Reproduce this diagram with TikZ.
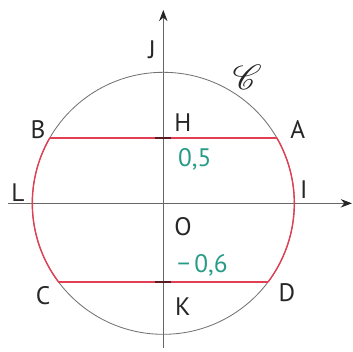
\documentclass[tikz,border=0pt]{standalone}
\usepackage{fontspec}
\usepackage{mathrsfs}
\setmainfont{PT Sans}
\usetikzlibrary{arrows.meta, calc}

\definecolor{chordred}{RGB}{226,62,84}
\definecolor{valteal}{RGB}{40,155,135}
\definecolor{tickdark}{RGB}{90,25,35}

\begin{document}
\begin{tikzpicture}[
    scale=3.275,
    font=\fontsize{18}{20}\selectfont,
    >={Stealth[length=8pt,width=6pt,color=black!85]},
    axis/.style={draw=black!60, line width=0.6pt},
    circ/.style={draw=black!55, line width=0.6pt},
    chord/.style={draw=chordred, line width=1pt},
    tick/.style={draw=tickdark, line width=1.5pt},
    lbl/.style={inner sep=0pt, text=black!85},
    val/.style={inner sep=0pt, text=valteal}
  ]
    \useasboundingbox (-1.2466,-1.1275) rectangle (1.448,1.552);

    % points of the circle
    \coordinate (O) at (0,0);
    \coordinate (A) at (30:1);
    \coordinate (B) at (150:1);
    \coordinate (C) at (216.87:1);
    \coordinate (D) at (-36.87:1);
    \coordinate (H) at (0,0.5);
    \coordinate (K) at (0,-0.6);
    \coordinate (xl) at (-1.186,0);
    \coordinate (xr) at (1.44,0);
    \coordinate (yb) at (0,-1.105);
    \coordinate (yt) at (0,1.476);

    % axes
    \draw[axis, ->] (xl) -- (xr);
    \draw[axis, ->] (yb) -- (yt);

    % circle
    \draw[circ] (O) circle (1);
    \draw[chord] (B) arc (150:216.87:1);
    \draw[chord] (D) arc (-36.87:30:1);

    % chords
    \draw[chord] (B) -- (A);
    \draw[chord] (C) -- (D);
    \draw[tick] ($(H)+(-0.06,0)$) -- ($(H)+(0.06,0)$);
    \draw[tick] ($(K)+(-0.06,0)$) -- ($(K)+(0.06,0)$);

    % labels
    \node[lbl] (lJ) at (-0.086,1.17) {J};
    \node[lbl] (lC) at (0.64,0.96) {\fontsize{26}{28}\selectfont$\mathscr{C}$};
    \node[lbl] (lH) at (0.15,0.613) {H};
    \node[lbl] (lA) at (1.027,0.56) {A};
    \node[lbl] (lB) at (-0.957,0.56) {B};
    \node[val] (v1) at (0.24,0.338) {0,5};
    \node[lbl] (lL) at (-1.109,0.079) {L};
    \node[lbl] (lI) at (1.073,0.102) {I};
    \node[lbl] (lO) at (0.15,-0.18) {O};
    \node[val] (v2) at (0.30,-0.47) {−\,0,6};
    \node[lbl] (lCc) at (-0.918,-0.707) {C};
    \node[lbl] (lD) at (0.943,-0.684) {D};
    \node[lbl] (lK) at (0.15,-0.79) {K};

\end{tikzpicture}
\end{document}
